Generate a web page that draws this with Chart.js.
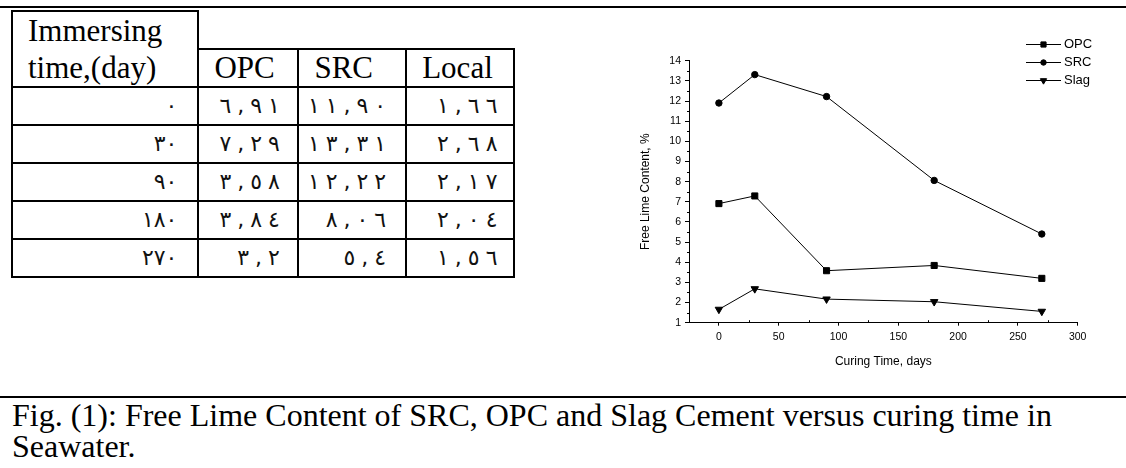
<!DOCTYPE html>
<html><head><meta charset="utf-8">
<script src="https://cdn.jsdelivr.net/npm/chart.js@4.4.0/dist/chart.umd.min.js"></script>
<style>
html,body{margin:0;padding:0;background:#fff;}
body{width:1126px;height:468px;position:relative;overflow:hidden;}
.rule{position:absolute;left:0;width:1126px;height:2px;background:#000;}
#tbl{position:absolute;left:11px;top:10px;border-collapse:collapse;table-layout:fixed;font-family:"Liberation Serif","Times New Roman",serif;font-size:31px;color:#000;}
#tbl td{border:2px solid #000;padding:0;vertical-align:top;line-height:37px;white-space:nowrap;overflow:hidden;}
#tbl td.blank{border-top:none;border-right:none;}
#tbl td.hd{padding-left:15px;}
#tbl td.hd2{line-height:35.7px;}
#tbl td.num{text-align:right;padding-right:17px;font-family:"DejaVu Sans","Liberation Serif",serif;font-size:22px;line-height:36px;color:#111;}
#tbl td.num span.g{margin-left:6px;}
#cap{position:absolute;left:12px;top:400px;font-family:"Liberation Serif","Times New Roman",serif;font-size:32px;line-height:31px;white-space:nowrap;color:#000;}
#chartBox{position:absolute;left:600px;top:0;width:526px;height:390px;}
</style></head>
<body>
<div class="rule" style="top:6px"></div>
<table id="tbl"></table>
<div class="rule" style="top:396px"></div>
<div id="cap"></div>
<div id="chartBox"><canvas id="c" width="526" height="390" style="width:526px;height:390px"></canvas></div>
<script>
// ---- data ----
const days = [0, 30, 90, 180, 270];
const opcText = ['6.91', '7.29', '3.58', '3.84', '3.2'];
const srcText = ['11.90', '13.31', '12.22', '8.06', '5.4'];
const slagText = ['1.66', '2.68', '2.17', '2.04', '1.56'];
const seriesNames = ['OPC', 'SRC', 'Slag'];
const tableHeads = ['Immersing', 'time,(day)', 'OPC', 'SRC', 'Local'];
const xTitle = 'Curing Time, days';
const yTitle = 'Free Lime Content, %';
const captionLines = ['Fig. (1): Free Lime Content of SRC, OPC and Slag Cement versus curing time in', 'Seawater.'];

const opc = opcText.map(Number);
const src = srcText.map(Number);
const slag = slagText.map(Number);

// ---- table ----
const arDigits = '٠١٢٣٤٥٦٧٨٩';
const toAr = s => String(s).replace(/[0-9]/g, d => arDigits[+d]).replace('.', ',');
const spaced = s => Array.from(toAr(s)).map((c, i) => i ? `<span class="g">${c}</span>` : c).join('');
const colW = [186.4, 100, 107.8, 108.3];
let html = '<colgroup>' + colW.map(w => `<col style="width:${w}px">`).join('') + '</colgroup>';
html += `<tr style="height:38.3px"><td class="hd" rowspan="2">${tableHeads[0]}<br>${tableHeads[1]}</td><td class="blank" colspan="3"></td></tr>`;
html += `<tr style="height:37.7px"><td class="hd hd2">${tableHeads[2]}</td><td class="hd hd2">${tableHeads[3]}</td><td class="hd hd2">${tableHeads[4]}</td></tr>`;
days.forEach((d, i) => {
  html += `<tr style="height:38.06px"><td class="num" style="padding-right:20px">${toAr(d)}</td>` +
    `<td class="num" style="padding-right:17.5px">${spaced(opcText[i])}</td>` +
    `<td class="num" style="padding-right:19px">${spaced(srcText[i])}</td>` +
    `<td class="num" style="padding-right:16px">${spaced(slagText[i])}</td></tr>`;
});
document.getElementById('tbl').innerHTML = html;
document.getElementById('cap').innerHTML = captionLines.join('<br>');

// ---- chart ----
const black = '#000';
const sans = '"Liberation Sans", Arial, sans-serif';
const tickFont = {family: sans, size: 10.5};
const titleFont = {family: sans, size: 12};

const minorTicks = {
  id: 'minorTicks',
  afterDraw(chart) {
    const xs = chart.scales.x, ys = chart.scales.y, ctx = chart.ctx;
    ctx.save();
    ctx.strokeStyle = black; ctx.lineWidth = 1;
    ctx.beginPath();
    for (let v = ys.min + 0.5; v < ys.max; v += 1) {
      const py = Math.round(ys.getPixelForValue(v)) + 0.5;
      ctx.moveTo(xs.left + 0.5, py); ctx.lineTo(xs.left - 2, py);
    }
    for (let v = xs.min; v < xs.max; v += 50) {
      const px = Math.round(xs.getPixelForValue(v)) + 0.5;
      ctx.moveTo(px, ys.bottom); ctx.lineTo(px, ys.bottom - 2.5);
    }
    ctx.stroke();
    ctx.restore();
  }
};

const legendPlugin = {
  id: 'lineLegend',
  afterDraw(chart) {
    const ctx = chart.ctx;
    ctx.save();
    chart.data.datasets.forEach((ds, i) => {
      const y = 44 + i * 18;
      ctx.strokeStyle = black; ctx.fillStyle = black; ctx.lineWidth = 1;
      ctx.beginPath(); ctx.moveTo(426, y + 0.5); ctx.lineTo(461, y + 0.5); ctx.stroke();
      Chart.helpers.drawPoint(ctx, {pointStyle: ds.pointStyle, rotation: ds.pointRotation || 0, radius: ds.pointRadius * 0.85, borderWidth: 1}, 443.5, y + 0.5);
      ctx.font = '13px ' + sans;
      ctx.textBaseline = 'middle'; ctx.textAlign = 'left';
      ctx.fillText(ds.label, 464, y + 0.5);
    });
    ctx.restore();
  }
};

const mk = (label, ys, style, r, rot) => ({
  label,
  data: days.map((d, i) => ({x: d, y: ys[i]})),
  borderColor: black, borderWidth: 1, backgroundColor: black,
  pointStyle: style, pointRadius: r, pointRotation: rot || 0,
  pointBackgroundColor: black, pointBorderColor: black, pointBorderWidth: 1,
  tension: 0, fill: false
});

new Chart(document.getElementById('c'), {
  type: 'line',
  data: {
    datasets: [
      mk(seriesNames[0], opc, 'rect', 4.3),
      mk(seriesNames[1], src, 'circle', 3.2),
      mk(seriesNames[2], slag, 'triangle', 4.3, 180)
    ]
  },
  options: {
    responsive: false, animation: false, devicePixelRatio: 1,
    layout: {padding: {top: 60.7, left: 0, right: 48.3, bottom: 0}},
    plugins: {legend: {display: false}, tooltip: {enabled: false}},
    scales: {
      x: {
        type: 'linear', min: -25, max: 300,
        ticks: {stepSize: 50, includeBounds: false, color: black, font: tickFont, padding: 5, maxRotation: 0, autoSkip: false},
        grid: {drawOnChartArea: false, drawTicks: true, tickLength: 3, color: black, lineWidth: 1},
        border: {display: true, color: black, width: 1},
        title: {display: true, text: xTitle, color: black, font: titleFont, padding: {top: 0, bottom: 20.8}},
        afterFit: s => { s.height = 67.3; }
      },
      y: {
        min: 1, max: 14,
        ticks: {stepSize: 1, color: black, font: tickFont, padding: 4},
        grid: {drawOnChartArea: false, drawTicks: true, tickLength: 4, color: black, lineWidth: 1},
        border: {display: true, color: black, width: 1},
        title: {display: true, text: yTitle, color: black, font: titleFont, padding: {top: 38.8, bottom: 0}},
        afterFit: s => { s.width = 89; }
      }
    }
  },
  plugins: [minorTicks, legendPlugin]
});
</script>
</body></html>
